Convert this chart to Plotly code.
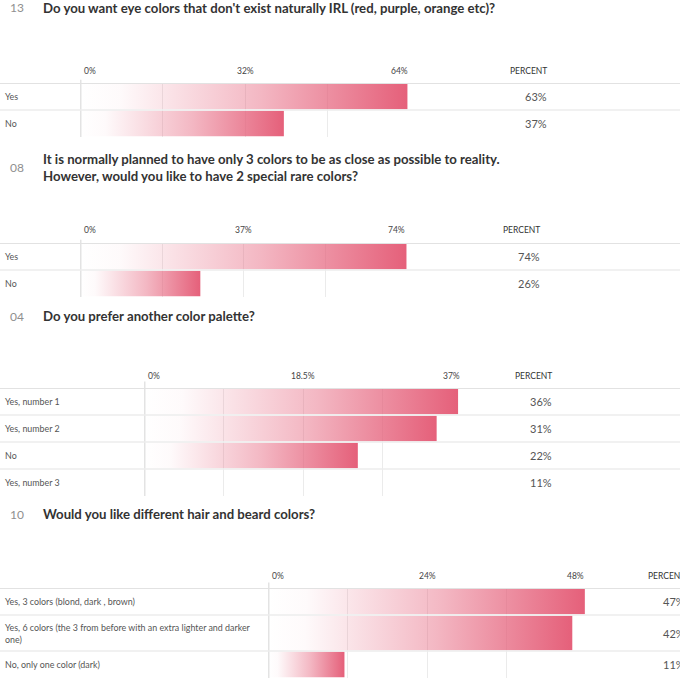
import plotly.graph_objects as go

# ---- data ----
eye_number = "13"
eye_question = "Do you want eye colors that don't exist naturally IRL (red, purple, orange etc)?"
eye_answers = ["Yes", "No"]
eye_percent = ["63%", "37%"]
eye_bar = [63.5, 39.5]
eye_ticks = [0, 32, 64]
eye_ticktext = ["0%", "32%", "64%"]

rare_number = "08"
rare_question = ("It is normally planned to have only 3 colors to be as close as possible to reality.<br>"
                 "However, would you like to have 2 special rare colors?")
rare_answers = ["Yes", "No"]
rare_percent = ["74%", "26%"]
rare_bar = [74.1, 27.2]
rare_ticks = [0, 37, 74]
rare_ticktext = ["0%", "37%", "74%"]

palette_number = "04"
palette_question = "Do you prefer another color palette?"
palette_answers = ["Yes, number 1", "Yes, number 2", "No", "Yes, number 3"]
palette_percent = ["36%", "31%", "22%", "11%"]
palette_bar = [36.6, 34.1, 24.9, None]   # last bar is not drawn in the screenshot
palette_ticks = [0, 18.5, 37]
palette_ticktext = ["0%", "18.5%", "37%"]

hair_number = "10"
hair_question = "Would you like different hair and beard colors?"
hair_answers = ["Yes, 3 colors (blond, dark , brown)",
                "Yes, 6 colors (the 3 from before with an extra lighter and darker<br>one)",
                "No, only one color (dark)"]
hair_percent = ["47%", "42%", "11%"]
hair_bar = [47.9, 46.0, 11.5]
hair_ticks = [0, 24, 48]
hair_ticktext = ["0%", "24%", "48%"]

# ---- page geometry, in screen pixels ----
W = H = 680
FONT = "Lato"
PINK = "229,96,122"


def px(x):
    return x / W


def py(y):
    return 1 - y / H


panels = [
    dict(number=eye_number, question=eye_question, answers=eye_answers, percent=eye_percent,
         bar=eye_bar, ticks=eye_ticks, ticktext=eye_ticktext,
         title_y=8, head_y=71, top=83, left=80.5, right=410, value_x=548.5),
    dict(number=rare_number, question=rare_question, answers=rare_answers, percent=rare_percent,
         bar=rare_bar, ticks=rare_ticks, ticktext=rare_ticktext,
         title_y=167, head_y=230, top=243, left=80.5, right=406.5, value_x=542),
    dict(number=palette_number, question=palette_question, answers=palette_answers,
         percent=palette_percent, bar=palette_bar, ticks=palette_ticks, ticktext=palette_ticktext,
         title_y=316, head_y=376, top=388, left=144.5, right=461.5, value_x=554),
    dict(number=hair_number, question=hair_question, answers=hair_answers, percent=hair_percent,
         bar=hair_bar, ticks=hair_ticks, ticktext=hair_ticktext,
         title_y=514, head_y=576, top=588, left=268.5, right=585.5, value_x=687),
]

fig = go.Figure()
annotations = []
shapes = []
layout_axes = {}

for n, p in enumerate(panels, start=1):
    xa = "x" if n == 1 else "x%d" % n
    ya = "y" if n == 1 else "y%d" % n

    # row heights: taller rows for two-line labels
    heights = [36 if "<br>" in a else 27 for a in p["answers"]]
    bounds = [0]
    for h in heights:
        bounds.append(bounds[-1] + h)
    total = bounds[-1]
    vmax = p["ticks"][-1]

    layout_axes["xaxis" if n == 1 else "xaxis%d" % n] = dict(
        domain=[px(p["left"]), px(p["right"])], range=[0, vmax], anchor=ya,
        showgrid=True, gridcolor="#ebebeb", gridwidth=1, tick0=0, dtick=vmax / 4,
        zeroline=False, showticklabels=False, ticks="", showline=False, fixedrange=True)
    layout_axes["yaxis" if n == 1 else "yaxis%d" % n] = dict(
        domain=[py(p["top"] + total), py(p["top"])], range=[total, 0], anchor=xa,
        showgrid=False, zeroline=False, showticklabels=False, ticks="", fixedrange=True)

    # bars with white-to-pink gradient
    for i, v in enumerate(p["bar"]):
        if v is None:
            continue
        t, b = bounds[i] + 0.8, bounds[i + 1] - 0.8
        fig.add_trace(go.Scatter(
            x=[0, v, v, 0, 0], y=[t, t, b, b, t], xaxis=xa, yaxis=ya,
            mode="lines", line=dict(width=0), fill="toself",
            fillgradient=dict(type="horizontal", colorscale=[
                [0, "rgba(%s,0)" % PINK], [0.12, "rgba(%s,0.03)" % PINK],
                [0.55, "rgba(%s,0.45)" % PINK], [1, "rgba(%s,1)" % PINK]]),
            hoverinfo="skip", showlegend=False))

    # 0% line
    shapes.append(dict(type="line", xref=xa, x0=0, x1=0, yref=ya + " domain", y0=0, y1=1.06,
                       line=dict(color="#c8c8c8", width=1.5)))
    # row separators
    for k, yb in enumerate(bounds[:-1]):
        shapes.append(dict(type="line", xref="paper", x0=0, x1=1, yref=ya, y0=yb, y1=yb,
                           line=dict(color="#e2e2e2" if k == 0 else "#ececec",
                                     width=2 if k == 0 else 1.5)))

    # title
    annotations.append(dict(xref="paper", yref="paper", x=px(8), y=py(p["title_y"]),
                            xanchor="left", yanchor="middle", showarrow=False,
                            text=p["number"], font=dict(family=FONT, size=12, color="#8f8f8f")))
    annotations.append(dict(xref="paper", yref="paper", x=px(41), y=py(p["title_y"]),
                            xanchor="left", yanchor="middle", align="left", showarrow=False,
                            text="<b>%s</b>" % p["question"],
                            font=dict(family=FONT, size=13.2, color="#333333")))

    # header tick labels
    anchors = ["left", "center", "right"]
    for k, (tv, tt) in enumerate(zip(p["ticks"], p["ticktext"])):
        annotations.append(dict(xref=xa, yref="paper", x=tv, y=py(p["head_y"]),
                                xanchor=anchors[k], yanchor="middle", showarrow=False,
                                xshift=1 if k == 0 else 0,
                                text=tt, font=dict(family=FONT, size=8.5, color="#444444")))
    annotations.append(dict(xref="paper", yref="paper", x=px(p["value_x"]), y=py(p["head_y"]),
                            xanchor="right", yanchor="middle", showarrow=False,
                            text="PERCENT", font=dict(family=FONT, size=8.5, color="#333333")))

    # row labels and percentages
    for i, (a, pc) in enumerate(zip(p["answers"], p["percent"])):
        yc = (bounds[i] + bounds[i + 1]) / 2
        annotations.append(dict(xref="paper", yref=ya, x=px(3), y=yc, xanchor="left",
                                yanchor="middle", align="left", showarrow=False, text=a,
                                font=dict(family=FONT, size=8.9, color="#555555")))
        annotations.append(dict(xref="paper", yref=ya, x=px(p["value_x"]), y=yc, xanchor="right",
                                yanchor="middle", showarrow=False, text=pc,
                                font=dict(family=FONT, size=11, color="#555555")))

fig.update_layout(
    width=W, height=H, margin=dict(l=0, r=0, t=0, b=0),
    paper_bgcolor="white", plot_bgcolor="rgba(0,0,0,0)",
    showlegend=False, annotations=annotations, shapes=shapes,
    **layout_axes)

fig.write_html("out.html", config=dict(displayModeBar=False),
               post_script="document.body.style.margin='0';")
